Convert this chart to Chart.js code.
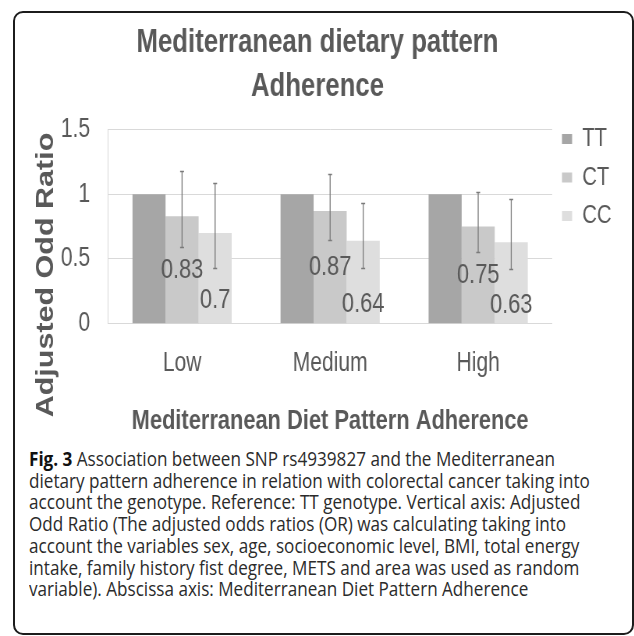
<!DOCTYPE html>
<html>
<head>
<meta charset="utf-8">
<script src="https://cdn.jsdelivr.net/npm/chart.js@4.4.1/dist/chart.umd.min.js"></script>
<style>
  body { margin: 0; background: #fff; width: 634px; height: 636px; overflow: hidden; position: relative; }
  #frame { position: absolute; left: 13px; top: 11px; width: 621px; height: 624px; box-sizing: border-box;
           border: 2px solid #1c1c1c; border-radius: 10px; }
  /* the source uses condensed type, so chart and caption are drawn wider and squeezed sideways */
  #wrap { position: absolute; left: 0; top: 0; width: 813px; height: 445px; transform: scaleX(0.78); transform-origin: 0 0; }
  #caption { position: absolute; left: 29px; top: 448px; font-family: "Open Sans", sans-serif; font-size: 20px;
             line-height: 21.7px; color: #2b2b2b; white-space: nowrap; transform: scaleX(0.855); transform-origin: 0 0; }
  #caption b { color: #111; }
</style>
</head>
<body>
<div id="frame"></div>
<div id="wrap">
  <canvas id="chart" width="813" height="445"></canvas>
</div>
<div id="caption">
  <b>Fig. 3</b> Association between SNP rs4939827 and the Mediterranean<br>
  dietary pattern adherence in relation with colorectal cancer taking into<br>
  account the genotype. Reference: TT genotype. Vertical axis: Adjusted<br>
  Odd Ratio (The adjusted odds ratios (OR) was calculating taking into<br>
  account the variables sex, age, socioeconomic level, BMI, total energy<br>
  intake, family history fist degree, METS and area was used as random<br>
  variable). Abscissa axis: Mediterranean Diet Pattern Adherence
</div>
<script>
// data
const categories = ['Low', 'Medium', 'High'];
const genotypes = ['TT', 'CT', 'CC'];
const ttValues = [1, 1, 1];
const ctValues = [0.83, 0.87, 0.75];
const ccValues = [0.7, 0.64, 0.63];
const ctLower = [0.59, 0.65, 0.55];
const ctUpper = [1.18, 1.16, 1.02];
const ccLower = [0.43, 0.43, 0.42];
const ccUpper = [1.09, 0.93, 0.96];
const yTicks = [0, 0.5, 1, 1.5];

const chartTitle = ['Mediterranean dietary pattern', 'Adherence'];
const xTitle = 'Mediterranean Diet Pattern Adherence';
const yTitle = 'Adjusted Odd Ratio';

const sans = '"Liberation Sans", Arial, sans-serif';
const grey = '#595959';

// error bars for CT and CC plus the value labels inside the bars
const barExtras = {
    id: 'barExtras',
    afterDatasetsDraw(chart) {
        const ctx = chart.ctx;
        const y = chart.scales.y;
        const ranges = [null, [ctLower, ctUpper], [ccLower, ccUpper]];

        ctx.save();
        ctx.strokeStyle = '#7a7a7a';
        ctx.lineWidth = 1.3;
        ranges.forEach((r, di) => {
            if (!r) return;
            chart.getDatasetMeta(di).data.forEach((bar, i) => {
                const x = bar.x;
                const top = Math.round(y.getPixelForValue(r[1][i])) + 0.5;
                const bottom = Math.round(y.getPixelForValue(r[0][i])) + 0.5;
                ctx.beginPath();
                ctx.moveTo(x, top);
                ctx.lineTo(x, bottom);
                ctx.moveTo(x - 2.5, top);
                ctx.lineTo(x + 2.5, top);
                ctx.moveTo(x - 2.5, bottom);
                ctx.lineTo(x + 2.5, bottom);
                ctx.stroke();
            });
        });

        ctx.font = '28px ' + sans;
        ctx.fillStyle = grey;
        ctx.textAlign = 'center';
        ctx.textBaseline = 'middle';
        [[1, ctValues, 0], [2, ccValues, 22]].forEach(([di, vals, shift]) => {
            chart.getDatasetMeta(di).data.forEach((bar, i) => {
                ctx.fillText(String(vals[i]), bar.x, y.getPixelForValue(vals[i] / 2) + shift);
            });
        });
        ctx.restore();
    }
};

// the y title sits lower than the middle of the plot in the original
const yAxisTitle = {
    id: 'yAxisTitle',
    afterDraw(chart) {
        const ctx = chart.ctx;
        ctx.save();
        ctx.font = 'bold 30.5px ' + sans;
        ctx.fillStyle = grey;
        ctx.textAlign = 'center';
        ctx.textBaseline = 'middle';
        ctx.translate(chart.scales.y.left + 40, 275);
        ctx.rotate(-Math.PI / 2);
        ctx.fillText(yTitle, 0, 0);
        ctx.restore();
    }
};

new Chart(document.getElementById('chart'), {
    type: 'bar',
    data: {
        labels: categories,
        datasets: [
            { label: genotypes[0], data: ttValues, backgroundColor: '#a6a6a6' },
            { label: genotypes[1], data: ctValues, backgroundColor: '#c9c9c9' },
            { label: genotypes[2], data: ccValues, backgroundColor: '#dedede' }
        ]
    },
    options: {
        responsive: false,
        animation: false,
        layout: { padding: { left: 20, right: 19, top: 0, bottom: 0 } },
        datasets: { bar: { categoryPercentage: 0.67, barPercentage: 1, borderWidth: 0 } },
        plugins: {
            title: {
                display: true,
                text: chartTitle,
                color: grey,
                font: { family: sans, size: 33, weight: 'bold', lineHeight: 44 / 33 },
                padding: { top: 20.5, bottom: 21 }
            },
            legend: {
                position: 'right',
                align: 'start',
                title: { display: true, text: '', padding: { top: 103.5, bottom: 0 }, font: { size: 10, lineHeight: 1 } },
                labels: {
                    boxWidth: 13,
                    boxHeight: 10,
                    padding: 12.5,
                    color: grey,
                    font: { family: sans, size: 26 }
                }
            },
            tooltip: { enabled: false }
        },
        scales: {
            x: {
                grid: { display: false, drawTicks: false },
                border: { color: '#d9d9d9' },
                ticks: { color: grey, padding: 23.5, font: { family: sans, size: 27 } },
                title: {
                    display: true,
                    text: xTitle,
                    color: grey,
                    font: { family: sans, size: 28, weight: 'bold' },
                    padding: { top: 1.3, bottom: 7 }
                }
            },
            y: {
                min: yTicks[0],
                max: yTicks[yTicks.length - 1],
                ticks: {
                    stepSize: yTicks[1] - yTicks[0],
                    color: grey,
                    padding: 23,
                    font: { family: sans, size: 27 },
                    callback: value => String(value)
                },
                grid: { color: '#d9d9d9', drawTicks: false },
                border: { color: '#d9d9d9' },
                afterFit(scale) { scale.width = 118.5; }
            }
        }
    },
    plugins: [barExtras, yAxisTitle]
});
</script>
</body>
</html>
